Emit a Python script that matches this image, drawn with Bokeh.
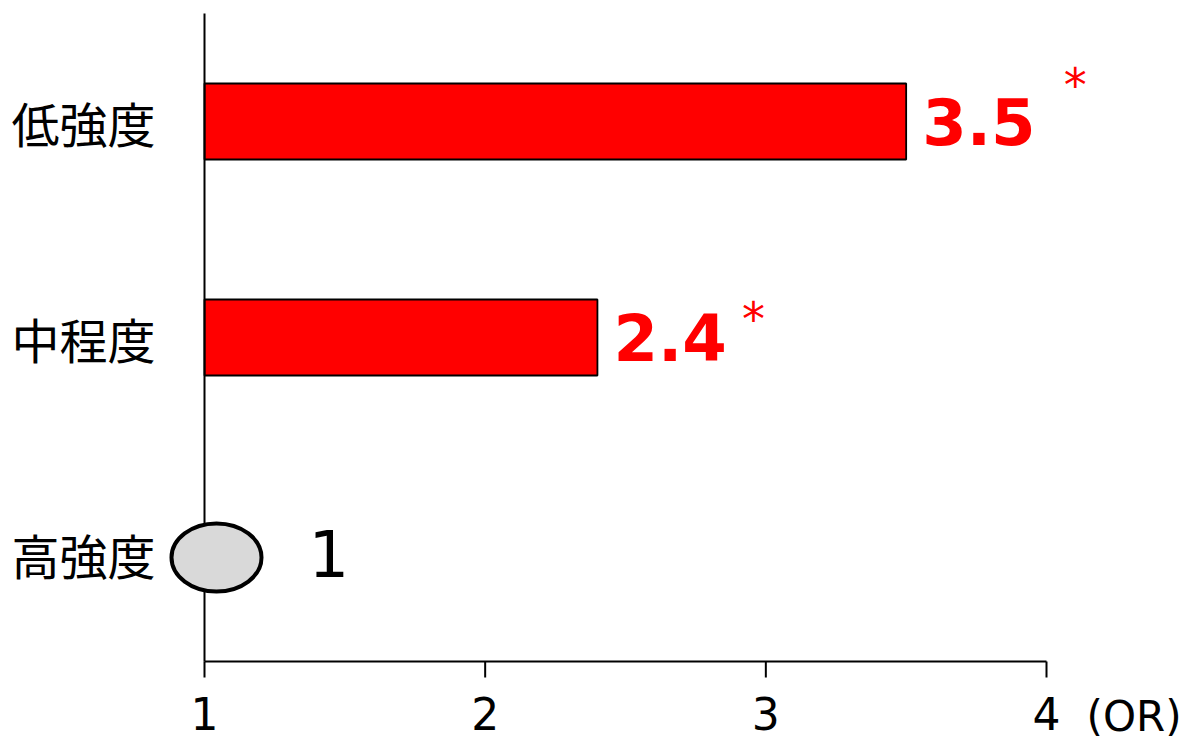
import math
from bokeh.plotting import figure
from bokeh.models import ColumnDataSource, Range1d
from bokeh.core.properties import value
from bokeh.transform import dodge
from bokeh.embed import file_html
from bokeh.resources import INLINE

# Odds ratios by exercise intensity (reference group: 高強度)
categories = ["低強度", "中程度", "高強度"]
odds_ratios = [3.5, 2.4, 1.0]
significant = [True, True, False]
reference = [False, False, True]
x_ticks = [1, 2, 3, 4]
x_unit = "(OR)"

RED = "#ff0000"
JP_FONT = value("Noto Sans CJK JP")
NUM_FONT = value("DejaVu Sans")

W, H = 1189, 749
# plot area geometry (pixels): axis origin and scale
LEFT, RIGHT_TICK = 204, 1046
TOP, AXIS_Y = 13, 661
px_x = (RIGHT_TICK - LEFT) / (x_ticks[-1] - x_ticks[0])
n = len(categories)
px_y = (AXIS_Y - TOP) / n

x0 = x_ticks[0] - LEFT / px_x
y_axis_val = -0.5
y0 = y_axis_val - (H - AXIS_Y) / px_y

p = figure(
    width=W, height=H,
    x_range=Range1d(x0, x0 + W / px_x),
    y_range=Range1d(y0, y0 + H / px_y),
    output_backend="svg", toolbar_location=None,
    x_axis_location=None, y_axis_location=None,
    min_border=0,
)
p.outline_line_color = None
p.grid.visible = False
p.background_fill_color = "white"
p.border_fill_color = "white"

ypos = {c: i for i, c in enumerate(reversed(categories))}
y_top = n - 0.5

bar_src = ColumnDataSource(dict(
    y=[ypos[c] for c, r in zip(categories, reference) if not r],
    val=[v for v, r in zip(odds_ratios, reference) if not r],
    lbl=[f"{v:.1f}" for v, r in zip(odds_ratios, reference) if not r],
))
ref_src = ColumnDataSource(dict(
    y=[ypos[c] for c, r in zip(categories, reference) if r],
    val=[v for v, r in zip(odds_ratios, reference) if r],
    lbl=[f"{v:g}" for v, r in zip(odds_ratios, reference) if r],
))

# bars for the compared groups
p.hbar(y="y", left=x_ticks[0], right="val", height=76 / px_y, source=bar_src,
       fill_color=RED, line_color="black", line_width=1.8)

# axes drawn as plain lines
p.segment(x0=[x_ticks[0]], y0=[y_axis_val], x1=[x_ticks[0]], y1=[y_top],
          line_color="black", line_width=2)
p.segment(x0=[x_ticks[0]], y0=[y_axis_val], x1=[x_ticks[-1]], y1=[y_axis_val],
          line_color="black", line_width=2)
p.ray(x=x_ticks, y=[y_axis_val] * len(x_ticks), length=16,
      length_units="screen", angle=-math.pi / 2,
      line_color="black", line_width=2)

# reference group marker
p.ellipse(x=dodge("val", 12 / px_x, range=p.x_range),
          y=dodge("y", -4 / px_y, range=p.y_range), source=ref_src,
          width=90, height=68, width_units="screen", height_units="screen",
          fill_color="#d9d9d9", line_color="black", line_width=4)

# value labels
p.text(x="val", y="y", text="lbl", source=bar_src, x_offset=16,
       text_baseline="middle", text_font=NUM_FONT, text_font_style="bold",
       text_font_size="64px", text_color=RED)
p.text(x="val", y="y", text="lbl", source=ref_src, x_offset=104,
       text_baseline="middle", text_font=NUM_FONT,
       text_font_size="64px", text_color="black")

# significance markers
star_offsets = {"低強度": (169, -37), "中程度": (156, -19)}
star_src = ColumnDataSource(dict(
    x=[v for v, s in zip(odds_ratios, significant) if s],
    y=[ypos[c] for c, s in zip(categories, significant) if s],
    dx=[star_offsets[c][0] for c, s in zip(categories, significant) if s],
    dy=[star_offsets[c][1] for c, s in zip(categories, significant) if s],
))
p.text(x="x", y="y", text=value("*"), source=star_src, x_offset="dx",
       y_offset="dy", text_align="center", text_baseline="middle",
       text_font=NUM_FONT, text_font_size="46px", text_color=RED)

# category labels
p.text(x=[x_ticks[0]] * n, y=[ypos[c] for c in categories], text=categories,
       x_offset=-49, text_align="right", text_baseline="middle",
       text_font=JP_FONT, text_font_size="48px", text_color="black")

# x tick labels and unit
p.text(x=x_ticks, y=[y_axis_val] * len(x_ticks), text=[str(t) for t in x_ticks],
       y_offset=35, text_align="center", text_baseline="top",
       text_font=NUM_FONT, text_font_size="44px", text_color="black")
p.text(x=[x_ticks[-1]], y=[y_axis_val], text=[x_unit], x_offset=40,
       y_offset=55, text_baseline="middle", text_font=NUM_FONT,
       text_font_size="42px", text_color="black")

open("out.html", "w").write(file_html(p, INLINE))
